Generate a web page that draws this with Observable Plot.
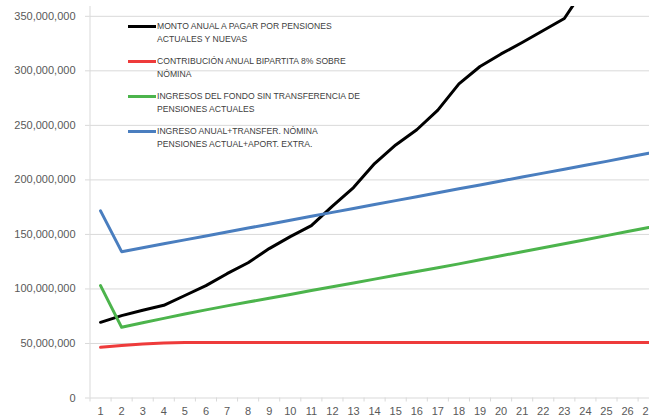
<!DOCTYPE html>
<html>
<head>
<meta charset="utf-8">
<script src="https://cdn.jsdelivr.net/npm/d3@7"></script>
<script src="https://cdn.jsdelivr.net/npm/@observablehq/plot@0.6"></script>
<style>
  html, body { margin: 0; padding: 0; background: #fff; }
  #chart { position: relative; width: 649px; height: 419px; overflow: hidden; }
  #chart svg { position: absolute; left: 0; top: 0; }
  .legend { position: absolute; left: 128px; top: 19px; font-family: "Liberation Sans Narrow", "Arial Narrow", "Liberation Sans", Arial, sans-serif; font-size: 8.6px; color: #404040; }
  .item { position: absolute; left: 0; width: 260px; }
  .swatch { position: absolute; left: 0; top: 6px; width: 28px; height: 3px; }
  .label { position: absolute; left: 29px; top: 1px; line-height: 12.5px; white-space: nowrap; }
</style>
</head>
<body>
<div id="chart"></div>
<script>
// Periods (years of projection) on the category axis
const periodos = [1, 2, 3, 4, 5, 6, 7, 8, 9, 10, 11, 12, 13, 14, 15, 16, 17, 18, 19, 20, 21, 22, 23, 24, 25, 26, 27];

// Annual amounts, in colones
const montoPensiones = [69400000, 75500000, 80500000, 85000000, 94000000, 103000000, 114000000, 124000000, 137000000, 148000000, 158000000, 176000000, 193000000, 215000000, 232000000, 246000000, 264000000, 288000000, 304000000, 315500000, 326000000, 337000000, 348000000, 377000000];
const contribucion = [46500000, 48200000, 49600000, 50500000, 50800000, 50800000, 50800000, 50800000, 50800000, 50800000, 50800000, 50800000, 50800000, 50800000, 50800000, 50800000, 50800000, 50800000, 50800000, 50800000, 50800000, 50800000, 50800000, 50800000, 50800000, 50800000, 50800000];
const ingresosFondo = [103000000, 64800000, 69000000, 73000000, 77000000, 80800000, 84500000, 88000000, 91500000, 95000000, 98500000, 102000000, 105500000, 109000000, 112500000, 116000000, 119500000, 123000000, 126700000, 130400000, 134100000, 137800000, 141500000, 145200000, 148900000, 152600000, 156300000];
const ingresoTransfer = [171600000, 134200000, 137800000, 141400000, 145000000, 148600000, 152200000, 155800000, 159400000, 163000000, 166600000, 170200000, 173800000, 177400000, 181000000, 184600000, 188200000, 191800000, 195400000, 199000000, 202600000, 206200000, 209800000, 213400000, 217000000, 220700000, 224400000];

const yTicks = [0, 50000000, 100000000, 150000000, 200000000, 250000000, 300000000, 350000000];

const series = [
  {name: "MONTO ANUAL A PAGAR POR PENSIONES\nACTUALES Y NUEVAS", values: montoPensiones, color: "#000000"},
  {name: "CONTRIBUCIÓN ANUAL BIPARTITA 8% SOBRE\nNÓMINA", values: contribucion, color: "#ee3b3b"},
  {name: "INGRESOS DEL FONDO SIN TRANSFERENCIA DE\nPENSIONES ACTUALES", values: ingresosFondo, color: "#4cb44c"},
  {name: "INGRESO ANUAL+TRANSFER. NÓMINA\nPENSIONES ACTUAL+APORT. EXTRA.", values: ingresoTransfer, color: "#4a7ebf"}
];

const rows = series.flatMap(s => s.values.map((v, i) => ({periodo: periodos[i], valor: v, serie: s.name})));
const bordes = periodos.map(p => p - 0.5);

const chart = Plot.plot({
  width: 649,
  height: 419,
  marginLeft: 89.5,
  marginRight: 0,
  marginTop: 6,
  marginBottom: 21.5,
  style: {fontFamily: "'Liberation Sans', Arial, sans-serif", fontSize: "11px", color: "#595959", background: "#fff", overflow: "hidden"},
  x: {domain: [0.5, 27.04], axis: null},
  y: {domain: [0, 359000000], axis: null},
  color: {domain: series.map(s => s.name), range: series.map(s => s.color)},
  marks: [
    Plot.gridY(yTicks.slice(1), {stroke: "#d9d9d9", strokeOpacity: 1, strokeWidth: 1}),
    Plot.ruleX([0.5], {stroke: "#d9d9d9", strokeWidth: 1}),
    Plot.ruleY([0], {stroke: "#d9d9d9", strokeWidth: 1}),
    Plot.axisY(yTicks, {label: null, tickSize: 4.5, tickPadding: 10, stroke: "#d9d9d9", fill: "#595959", tickFormat: d3.format(","), fontSize: 11}),
    Plot.axisX(bordes, {label: null, tickSize: 4, tickFormat: () => "", stroke: "#d9d9d9"}),
    Plot.axisX(periodos, {label: null, tickSize: 0, tickPadding: 9, fill: "#595959", tickFormat: d => String(d), fontSize: 11}),
    Plot.line(rows, {x: "periodo", y: "valor", z: "serie", stroke: "serie", strokeWidth: 3, clip: true, strokeLinejoin: "round"})
  ]
});

const root = document.getElementById("chart");
root.appendChild(chart);

// Legend inside the plot area, top-left
const legend = document.createElement("div");
legend.className = "legend";
series.forEach((s, i) => {
  const item = document.createElement("div");
  item.className = "item";
  item.style.top = (i * 35) + "px";
  const sw = document.createElement("div");
  sw.className = "swatch";
  sw.style.background = s.color;
  const lab = document.createElement("div");
  lab.className = "label";
  lab.innerHTML = s.name.split("\n").join("<br>");
  item.appendChild(sw);
  item.appendChild(lab);
  legend.appendChild(item);
});
root.appendChild(legend);
</script>
</body>
</html>
